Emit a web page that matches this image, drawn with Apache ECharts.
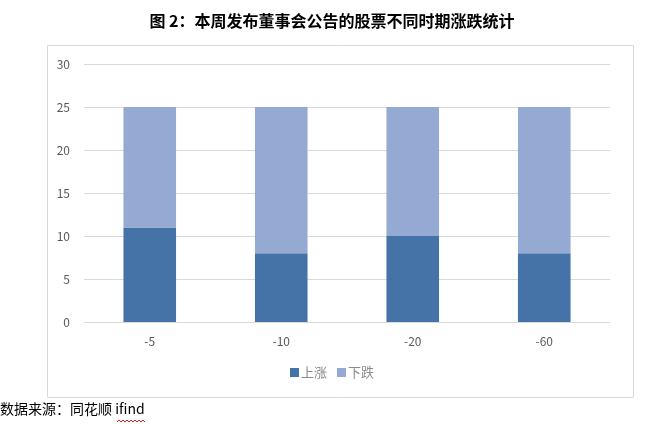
<!DOCTYPE html>
<html><head><meta charset="utf-8">
<script src="https://cdn.jsdelivr.net/npm/echarts@6/dist/echarts.min.js"></script>
<style>html,body{margin:0;padding:0;background:#fff}#c{width:664px;height:424px}</style>
</head><body><div id="c"></div>
<script>
const categories = ['-5', '-10', '-20', '-60'];
const upValues = [11, 8, 10, 8];
const downValues = [14, 17, 15, 17];
const seriesNames = ['上涨', '下跌'];
const titleText = '图 2：本周发布董事会公告的股票不同时期涨跌统计';
const sourceText = '数据来源：同花顺 ifind';

const chart = echarts.init(document.getElementById('c'));
const font = '"Noto Sans CJK SC", "Noto Sans", sans-serif';
chart.setOption({
  animation: false,
  title: { text: titleText, left: 'center', top: 8,
    textStyle: { fontFamily: font, fontSize: 16, fontWeight: 'bold', color: '#000' } },
  grid: { left: 84, right: 54, top: 64, bottom: 102 },
  legend: { bottom: 40, left: 'center', itemWidth: 9, itemHeight: 9, itemGap: 10,
    icon: 'rect', textStyle: { fontFamily: font, fontSize: 13, color: '#8c8c8c', padding: [0,0,0,-3] },
    data: seriesNames },
  xAxis: { type: 'category', data: categories,
    axisLine: { lineStyle: { color: '#d9d9d9' } }, axisTick: { show: false },
    axisLabel: { color: '#595959', fontFamily: font, fontSize: 12, margin: 13 } },
  yAxis: { type: 'value', min: 0, max: 30, interval: 5,
    axisLine: { show: false }, axisTick: { show: false },
    splitLine: { lineStyle: { color: '#d9d9d9' } },
    axisLabel: { color: '#595959', fontFamily: font, fontSize: 12, margin: 14 } },
  series: [
    { name: seriesNames[0], type: 'bar', stack: 's', data: upValues, barWidth: '40%',
      itemStyle: { color: '#4573a7' } },
    { name: seriesNames[1], type: 'bar', stack: 's', data: downValues, barWidth: '40%',
      itemStyle: { color: '#95aad3' } }
  ],
  graphic: [
    { type: 'rect', shape: { x: 47.5, y: 45.5, width: 586, height: 352 },
      style: { fill: 'none', stroke: '#d9d9d9', lineWidth: 1 }, silent: true },
    { type: 'text', left: 0, top: 402,
      style: { text: sourceText, fontFamily: font, fontSize: 14, fill: '#000' } },
    { type: 'polyline', shape: { points: [[117,422],[119,420],[121,422],[123,420],[125,422],[127,420],[129,422],[131,420],[133,422],[135,420],[137,422],[139,420],[141,422],[143,420],[145,422]] },
      style: { stroke: '#e02020', lineWidth: 1, fill: 'none' } }
  ]
});
</script></body></html>
